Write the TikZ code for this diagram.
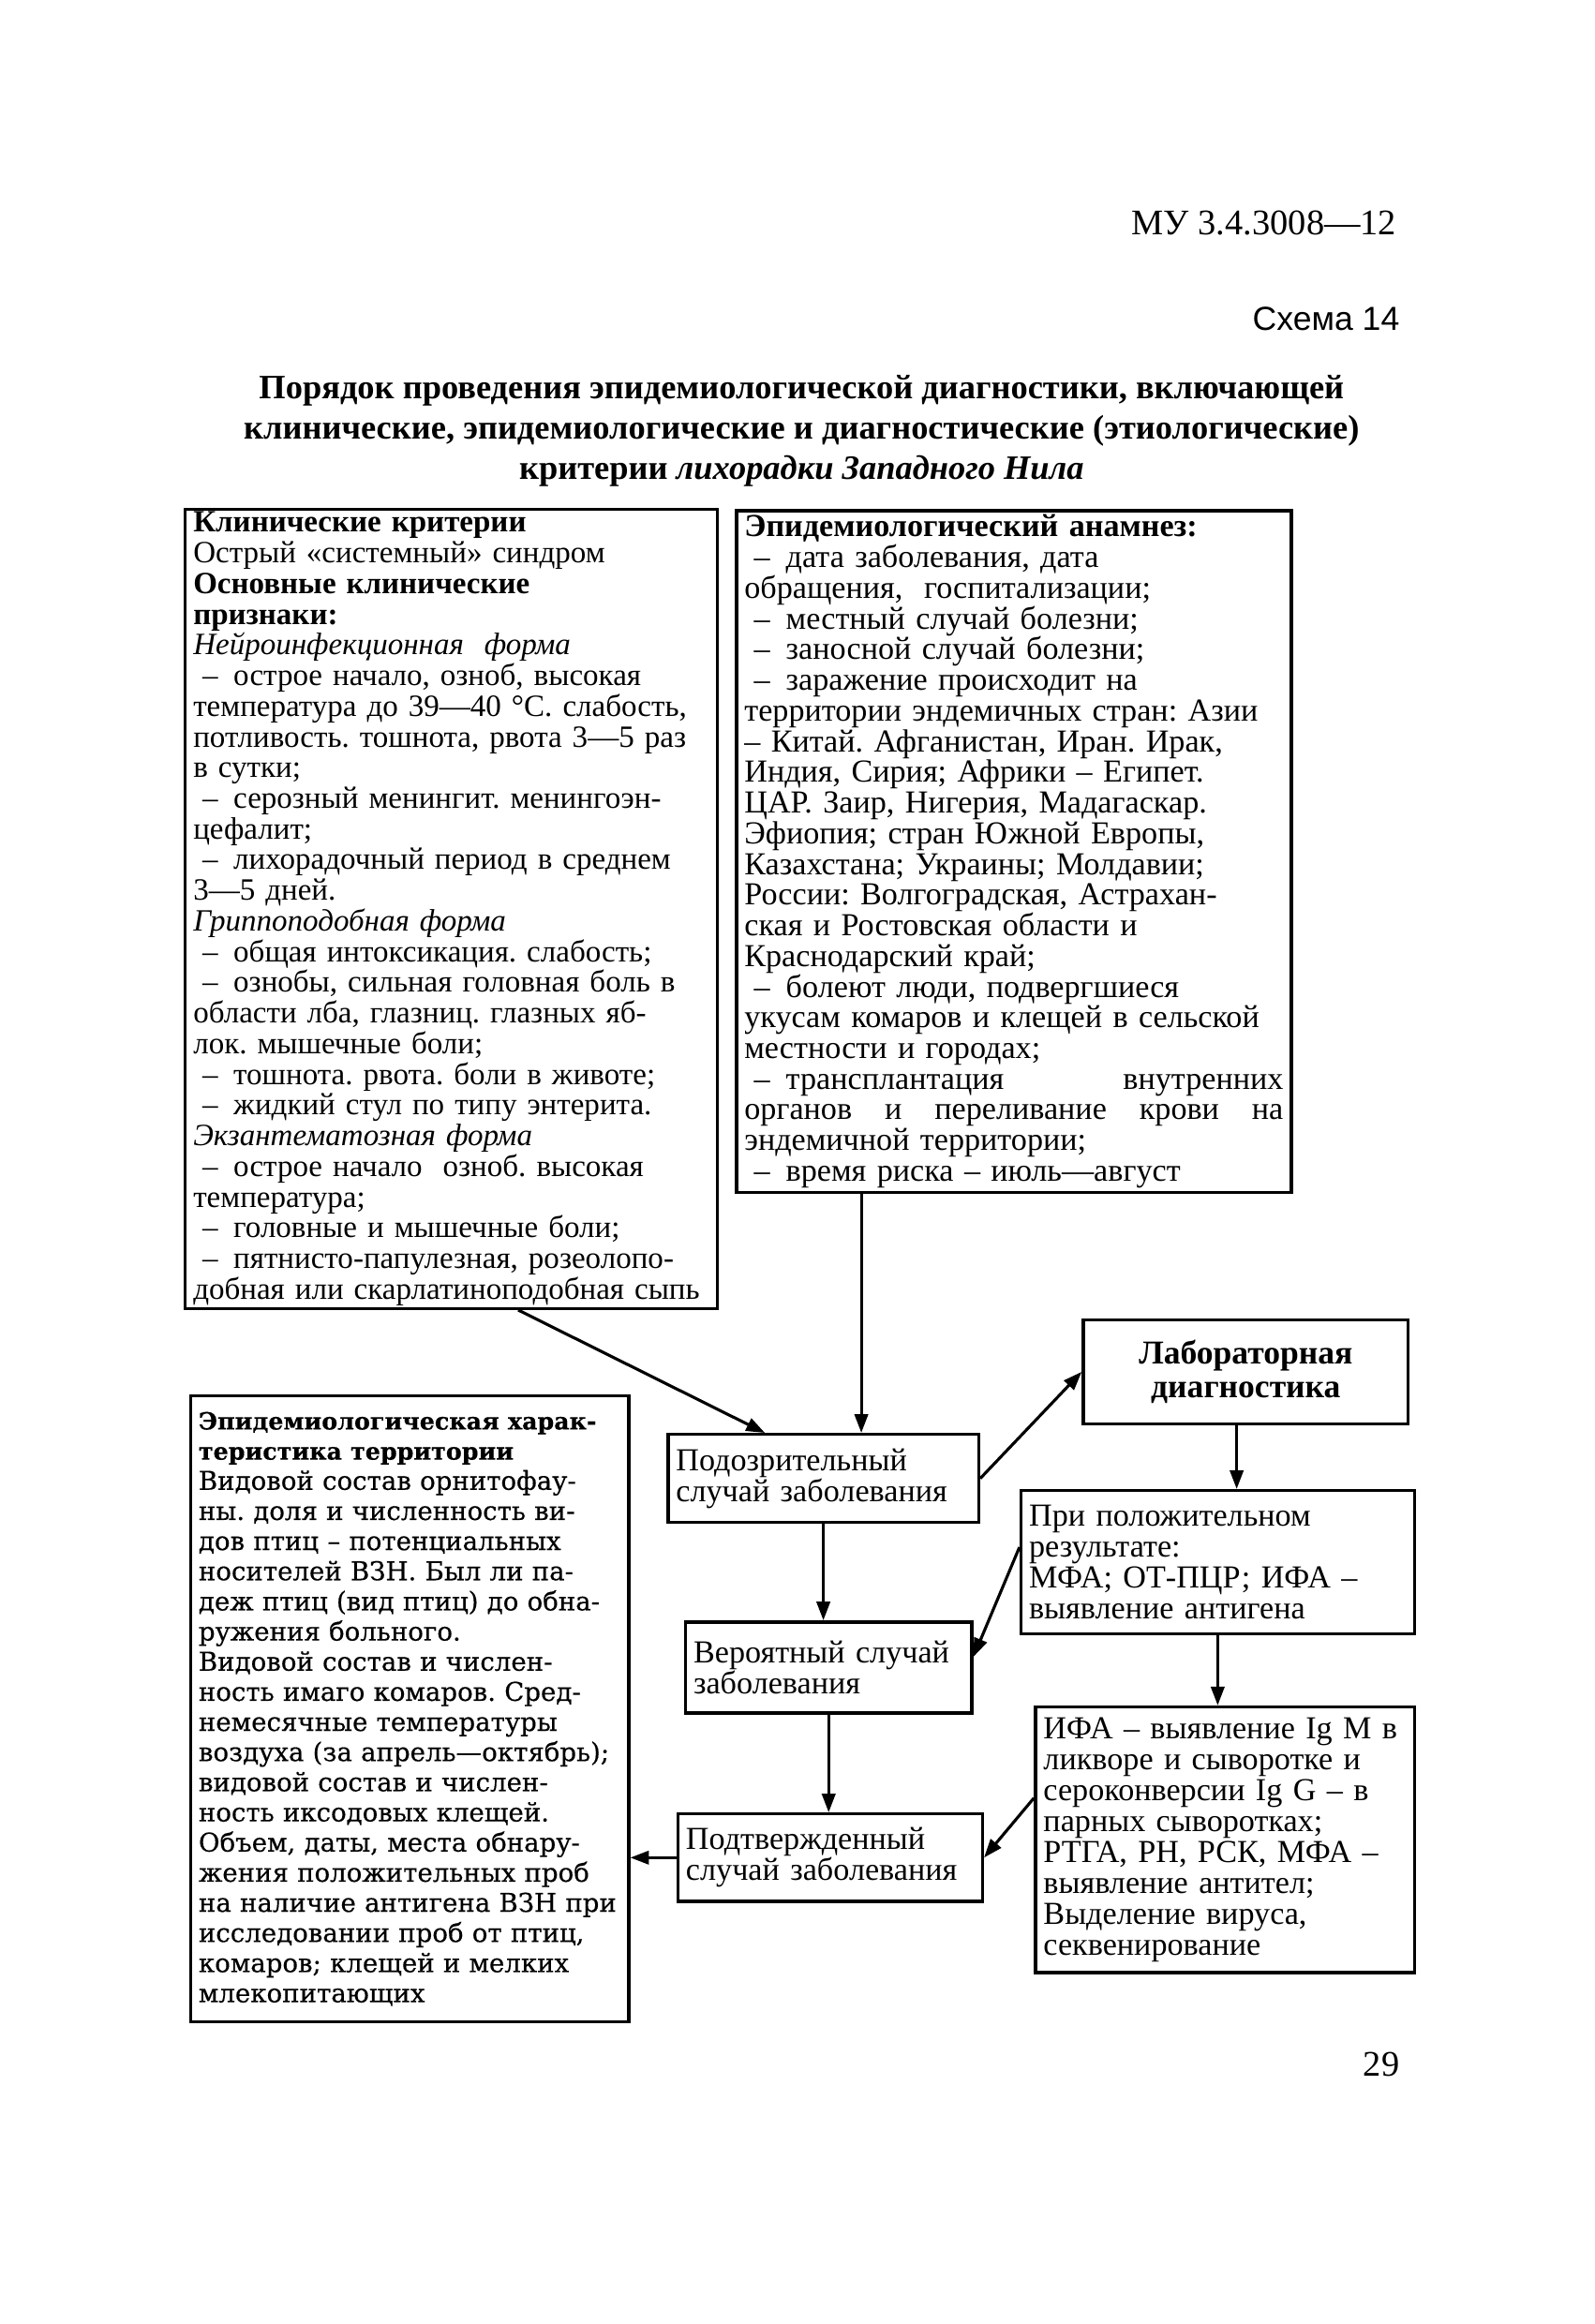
\documentclass[tikz,border=0pt]{standalone}
\usepackage{fontspec}
\setmainfont{Liberation Serif}
\newfontfamily\headsans{Liberation Sans}
\newfontfamily\wideserif[FakeBold=0.4]{DejaVu Serif}
\usetikzlibrary{arrows.meta}
\newcommand{\itm}{\hspace*{0.3em}–\enspace}
\frenchspacing

\begin{document}
\begin{tikzpicture}[
    box/.style={draw, line width=1.2pt, inner xsep=3pt, inner ysep=1pt, align=left, anchor=north west},
    arr/.style={-{Triangle[length=7pt,width=5pt]}, line width=1.1pt},
    bigtext/.style={font=\fontsize{12}{11.5}\selectfont},
    smalltext/.style={font=\fontsize{12}{11.6}\selectfont}
]
    % Page
    \useasboundingbox (0,0) rectangle (21,30.617);

    % Heading
    \node[anchor=base east, font=\fontsize{13.5}{14}\selectfont] (code) at (18.52,27.53) {МУ 3.4.3008—12};
    \node[anchor=base east, font=\headsans\fontsize{12.5}{14}\selectfont] (scheme) at (18.56,26.26) {Схема 14};
    \node[anchor=north, align=center, font=\bfseries\fontsize{12.8}{15.2}\selectfont] (title) at (10.56,25.8)
        {Порядок проведения эпидемиологической диагностики, включающей\\
         клинические, эпидемиологические и диагностические (этиологические)\\
         критерии \itshape лихорадки Западного Нила};

    % Clinical criteria
    \node[box, font=\fontsize{11.6}{11.5}\selectfont, text width=6.8cm, minimum height=10.53cm] (clin) at (2.42,23.93)
        {{\bfseries Клинические критерии}\\
         Острый «системный» синдром\\
         {\bfseries Основные клинические}\\
         {\bfseries признаки:}\\
         {\itshape Нейроинфекционная\ \ форма}\\
         \itm острое начало, озноб, высокая\\
         температура до 39—40 °С. слабость,\\
         потливость. тошнота, рвота 3—5 раз\\
         в сутки;\\
         \itm серозный менингит. менингоэн-\\
         цефалит;\\
         \itm лихорадочный период в среднем\\
         3—5 дней.\\
         {\itshape Гриппоподобная форма}\\
         \itm общая интоксикация. слабость;\\
         \itm ознобы, сильная головная боль в\\
         области лба, глазниц. глазных яб-\\
         лок. мышечные боли;\\
         \itm тошнота. рвота. боли в животе;\\
         \itm жидкий стул по типу энтерита.\\
         {\itshape Экзантематозная форма}\\
         \itm острое начало\ \ озноб. высокая\\
         температура;\\
         \itm головные и мышечные боли;\\
         \itm пятнисто-папулезная, розеолопо-\\
         добная или скарлатиноподобная сыпь};

    % Epidemiological anamnesis
    \node[box, bigtext, text width=7.1cm, minimum height=8.98cm] (anam) at (9.68,23.91)
        {{\bfseries Эпидемиологический анамнез:}\\
         \itm дата заболевания, дата\\
         обращения,\ \ госпитализации;\\
         \itm местный случай болезни;\\
         \itm заносной случай болезни;\\
         \itm заражение происходит на\\
         территории эндемичных стран: Азии\\
         – Китай. Афганистан, Иран. Ирак,\\
         Индия, Сирия; Африки – Египет.\\
         ЦАР. Заир, Нигерия, Мадагаскар.\\
         Эфиопия; стран Южной Европы,\\
         Казахстана; Украины; Молдавии;\\
         России: Волгоградская, Астрахан-\\
         ская и Ростовская области и\\
         Краснодарский край;\\
         \itm болеют люди, подвергшиеся\\
         укусам комаров и клещей в сельской\\
         местности и городах;\\
         \itm трансплантация \hfill внутренних\\
         органов \hfill и \hfill переливание \hfill крови \hfill на\\
         эндемичной территории;\\
         \itm время риска – июль—август};

    % Laboratory
    \node[box, align=center, text width=4.07cm, minimum height=1.37cm, font=\bfseries\fontsize{12.5}{12.5}\selectfont] (lab) at (14.25,13.25)
        {Лабораторная\\ диагностика};

    % Cases
    \node[box, smalltext, text width=3.88cm, minimum height=1.16cm] (susp) at (8.78,11.74)
        {Подозрительный\\ случай заболевания};
    \node[box, smalltext, text width=3.56cm, minimum height=1.2cm] (prob) at (9.01,9.27)
        {Вероятный случай\\ заболевания};
    \node[box, smalltext, text width=3.8cm, minimum height=1.15cm] (conf) at (8.91,6.74)
        {Подтвержденный\\ случай заболевания};

    % Test results
    \node[box, smalltext, text width=4.97cm, minimum height=1.89cm] (pos) at (13.43,11.0)
        {При положительном\\ результате:\\ МФА; ОТ-ПЦР; ИФА –\\ выявление антигена};
    \node[box, smalltext, text width=4.78cm, minimum height=3.5cm] (ifa) at (13.62,8.15)
        {ИФА – выявление Ig M в\\ ликворе и сыворотке и\\ сероконверсии Ig G – в\\ парных сыворотках;\\
         РТГА, РН, РСК, МФА –\\ выявление антител;\\ Выделение вируса,\\ секвенирование};

    % Territory
    \node[box, text width=5.56cm, minimum height=8.25cm, font=\wideserif\fontsize{9.7}{11.3}\selectfont] (terr) at (2.49,12.25)
        {{\bfseries\fontsize{8.9}{11.3}\selectfont Эпидемиологическая харак-\\ теристика территории}\\
         Видовой состав орнитофау-\\
         ны. доля и численность ви-\\
         дов птиц – потенциальных\\
         носителей ВЗН. Был ли па-\\
         деж птиц (вид птиц) до обна-\\
         ружения больного.\\
         Видовой состав и числен-\\
         ность имаго комаров. Сред-\\
         немесячные температуры\\
         воздуха (за апрель—октябрь);\\
         видовой состав и числен-\\
         ность иксодовых клещей.\\
         Объем, даты, места обнару-\\
         жения положительных проб\\
         на наличие антигена ВЗН при\\
         исследовании проб от птиц,\\
         комаров; клещей и мелких\\
         млекопитающих};

    % Page number
    \node[anchor=base east, font=\fontsize{13.5}{14}\selectfont] (page) at (18.56,3.27) {29};

    % Arrows
    \draw[arr] ([xshift=0.88cm]clin.south) -- ([xshift=-0.77cm]susp.north);
    \draw[arr] ([xshift=0.5cm]susp.north |- anam.south) -- ([xshift=0.5cm]susp.north);
    \draw[arr] (susp.east) -- (lab.west);
    \draw[arr] ([xshift=-0.12cm]lab.south) -- ([xshift=-0.12cm]lab.south |- pos.north);
    \draw[arr] (susp.south) -- (susp.south |- prob.north);
    \draw[arr] ([yshift=0.2cm]pos.west) -- ([yshift=0.14cm]prob.east);
    \draw[arr] (prob.south) -- (prob.south |- conf.north);
    \draw[arr] (pos.south) -- (pos.south |- ifa.north);
    \draw[arr] ([yshift=0.55cm]ifa.west) -- (conf.east);
    \draw[arr] (conf.west) -- (conf.west -| terr.east);
\end{tikzpicture}
\end{document}
